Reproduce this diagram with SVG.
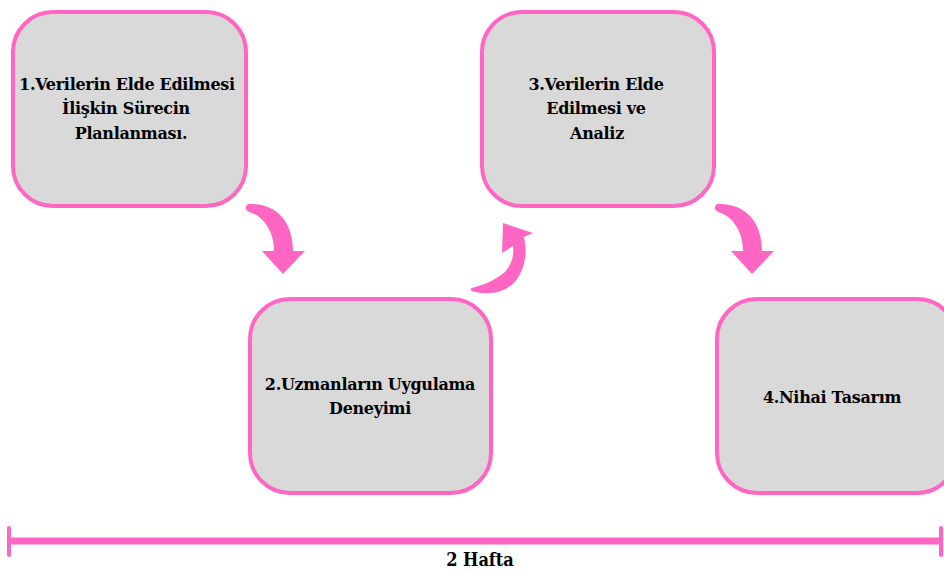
<svg xmlns="http://www.w3.org/2000/svg" width="944" height="572" viewBox="0 0 944 572">
<style>
.box{fill:#d9d9d9;stroke:#ff66c4;stroke-width:4}
.t{font-family:"DejaVu Serif","Liberation Serif",serif;font-weight:bold;font-size:16px;fill:#000;text-anchor:middle;letter-spacing:-0.3px}
.arr{fill:#ff66c4}
</style>
<rect width="944" height="572" fill="#fff"/>
<g id="node1"><rect class="box" x="13" y="12" width="233" height="194" rx="40"/>
<text class="t" x="127" y="90">1.Verilerin Elde Edilmesi</text>
<text class="t" x="126" y="114">İlişkin Sürecin</text>
<text class="t" x="131" y="139">Planlanması.</text></g>
<g id="node2"><rect class="box" x="250" y="299" width="241" height="194" rx="40"/>
<text class="t" x="370" y="390">2.Uzmanların Uygulama</text>
<text class="t" x="370" y="414">Deneyimi</text></g>
<g id="node3"><rect class="box" x="482" y="12" width="232" height="194" rx="40"/>
<text class="t" x="596" y="90">3.Verilerin Elde</text>
<text class="t" x="596" y="114">Edilmesi ve</text>
<text class="t" x="597" y="139">Analiz</text></g>
<g id="node4"><rect class="box" x="717" y="299" width="240" height="194" rx="40"/>
<text class="t" x="832" y="403">4.Nihai Tasarım</text></g>
<g id="connectors">
<path class="arr" d="M248 204 C275 203 293 220 293 251 L305 251 L283 274 L262 251 L274 251 C274 232 264 216 249 212 Q243 208 248 204 Z"/>
<path class="arr" d="M717 204 C744 203 762 220 762 251 L774 251 L752 274 L731 251 L743 251 C743 232 733 216 718 212 Q712 208 717 204 Z"/>
<path class="arr" d="M472 288 Q492 283 505 272 Q515 260 513 246 L502 253 L503 223 L533 233 L524 237 Q530 262 515 282 Q500 297 475 292 Q468 290 472 288 Z"/>
</g>
<g id="timeline">
<line x1="10" y1="541" x2="942" y2="541" stroke="#ff66c4" stroke-width="7"/>
<line x1="9" y1="528" x2="9" y2="555" stroke="#ff66c4" stroke-width="4" stroke-linecap="round"/>
<line x1="941" y1="528" x2="941" y2="555" stroke="#ff66c4" stroke-width="4" stroke-linecap="round"/>
<text x="480" y="566" style="font-family:'DejaVu Serif Condensed','DejaVu Serif',serif;font-weight:bold;font-size:18px;text-anchor:middle">2 Hafta</text>
</g>
</svg>
